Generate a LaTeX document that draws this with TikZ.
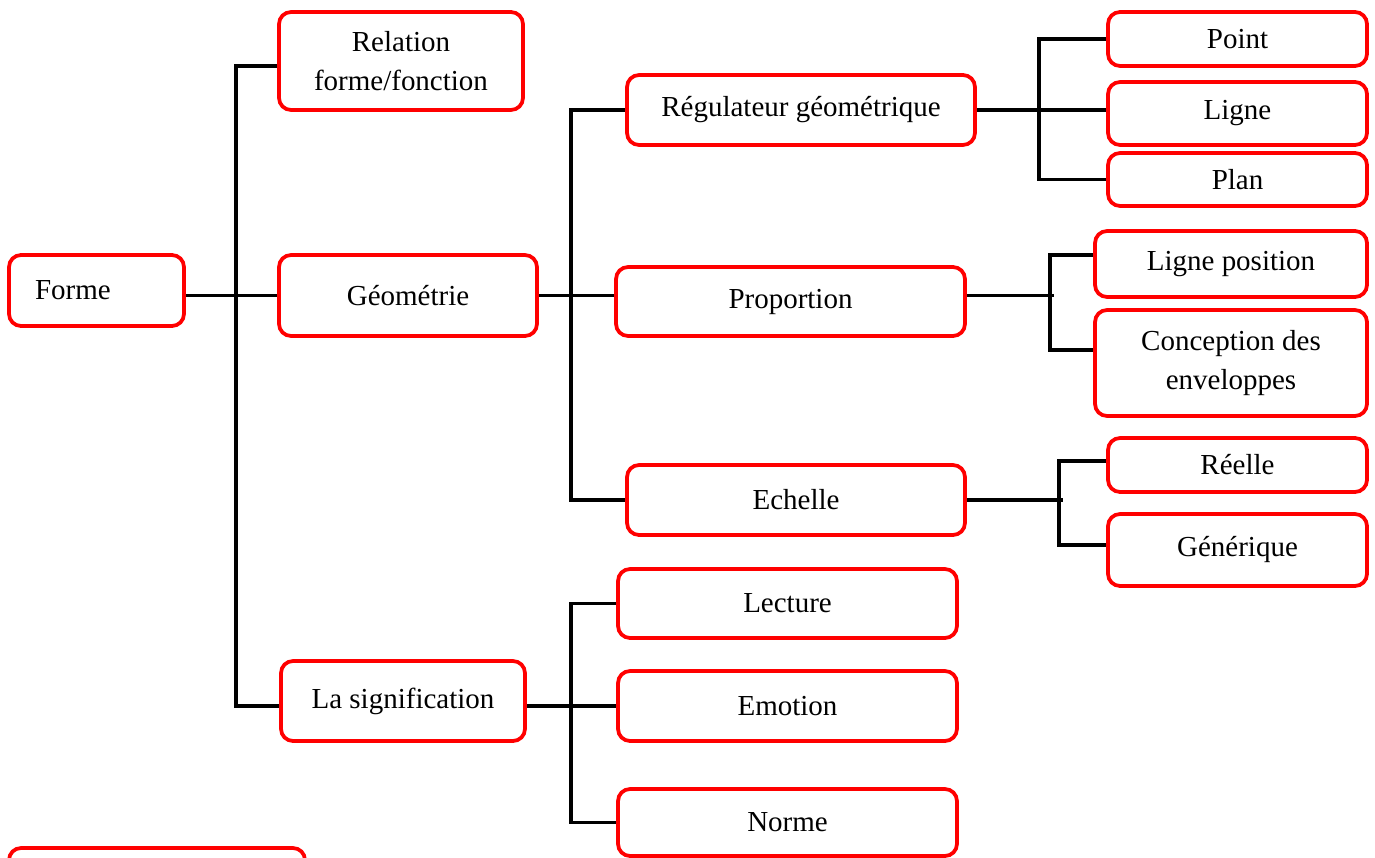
\documentclass[tikz,border=0pt]{standalone}
\usepackage{fontspec}
\setmainfont{Liberation Serif}
\usetikzlibrary{positioning}

\begin{document}
\begin{tikzpicture}[
  x=0.02cm,
  y=-0.02cm,
  font=\fontsize{16.5}{22.2}\selectfont,
  box/.style={draw=red, line width=0.075cm, rounded corners=0.24cm, fill=white,
    align=center, inner sep=0pt},
  link/.style={draw, line width=0.075cm}
]
\useasboundingbox (0,0) rectangle (1375,858);

% Root
\node[box, text width=2.46cm, inner xsep=0.52cm, minimum height=1.42cm, align=left] (forme) at (96.5,290.5) {Forme};

% Level 1
\node[box, minimum width=4.88cm, minimum height=1.96cm] (rel) at (401,61) {Relation\\forme/fonction};
\node[box, minimum width=5.16cm, minimum height=1.62cm] (geo) at (408,295.5) {G\'eom\'etrie};
\node[box, minimum width=4.88cm, minimum height=1.6cm] (sig) at (403,701) {La signification};

% Level 2
\node[box, minimum width=6.96cm, minimum height=1.4cm] (reg) at (801,110) {R\'egulateur g\'eom\'etrique};
\node[box, minimum width=6.98cm, minimum height=1.38cm] (prop) at (790.5,301.5) {Proportion};
\node[box, minimum width=6.76cm, minimum height=1.4cm] (ech) at (796,500) {Echelle};
\node[box, minimum width=6.78cm, minimum height=1.38cm] (lect) at (787.5,603.5) {Lecture};
\node[box, minimum width=6.78cm, minimum height=1.4cm] (emo) at (787.5,706) {Emotion};
\node[box, minimum width=6.78cm, minimum height=1.34cm] (norme) at (787.5,822.5) {Norme};

% Level 3
\node[box, minimum width=5.18cm, minimum height=1.08cm] (point) at (1237.5,39) {Point};
\node[box, minimum width=5.18cm, minimum height=1.26cm] (ligne) at (1237.5,113.5) {Ligne};
\node[box, minimum width=5.18cm, minimum height=1.06cm] (plan) at (1237.5,179.5) {Plan};
\node[box, minimum width=5.44cm, minimum height=1.32cm] (lpos) at (1231,264) {Ligne position};
\node[box, minimum width=5.44cm, minimum height=2.12cm] (conc) at (1231,363) {Conception des\\enveloppes};
\node[box, minimum width=5.18cm, minimum height=1.08cm] (reelle) at (1237.5,465) {R\'eelle};
\node[box, minimum width=5.18cm, minimum height=1.44cm] (gen) at (1237.5,550) {G\'en\'erique};

% cut box at the bottom
\node[box, minimum width=5.92cm, minimum height=1.2cm] (extra) at (157,878) {};

% Connectors
\draw[link] (geo.west -| forme.east) -- (geo.west);
\draw[link] ([yshift=-0.1cm]rel.west) -- ++(-41,0) |- ([yshift=-0.1cm]sig.west);

\draw[link] (geo.east) -- (geo.east -| prop.west);
\draw[link] (reg.west) -- ++(-54,0) |- (ech.west);

\draw[link] (emo.west -| sig.east) -- (emo.west);
\draw[link] (lect.west) -- ++(-45,0) |- (norme.west);

\draw[link] (reg.east) -- (reg.east -| ligne.west);
\draw[link] (point.west) -- ++(-67,0) |- (plan.west);

\draw[link] (geo.east -| prop.east) -- ++(87,0);
\draw[link] ([yshift=0.18cm]lpos.west) -- ++(-43,0) |- ([yshift=0.26cm]conc.west);

\draw[link] (ech.east) -- ++(96,0);
\draw[link] ([yshift=0.08cm]reelle.west) -- ++(-47,0) |- ([yshift=0.1cm]gen.west);

\end{tikzpicture}
\end{document}
